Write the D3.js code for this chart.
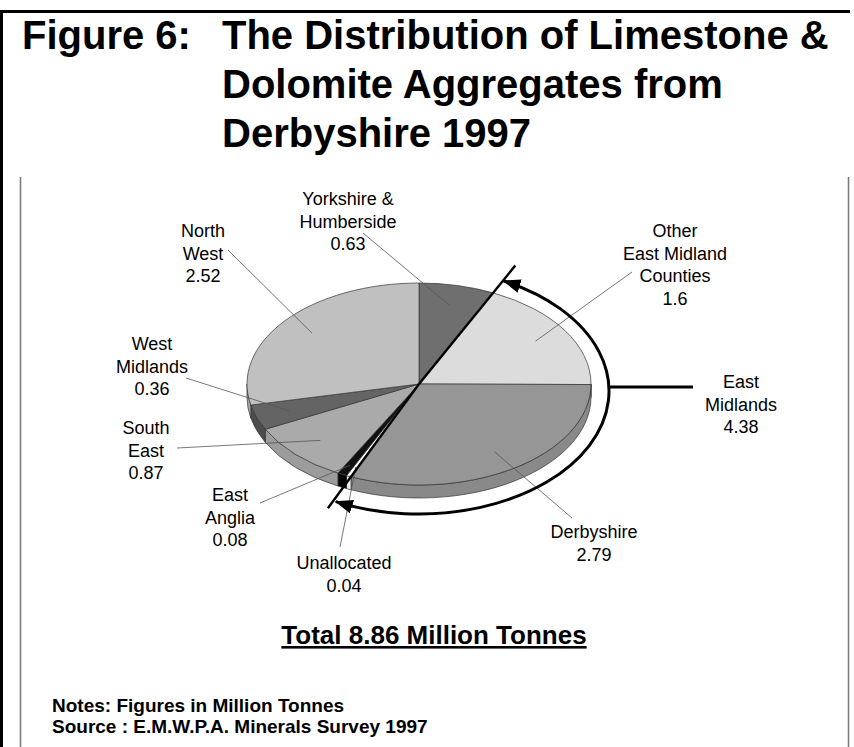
<!DOCTYPE html>
<html>
<head>
<meta charset="utf-8">
<script src="https://cdn.jsdelivr.net/npm/d3@7"></script>
<style>
  body { margin: 0; background: #fff; }
  svg text { font-family: "Liberation Sans", Arial, sans-serif; fill: #000; }
</style>
</head>
<body>
<div id="chart"></div>
<script>
// ---------------------------------------------------------
//  datos
// ---------------------------------------------------------
var figureNo = "Figure 6:";
var titleLines = ["The Distribution of Limestone &", "Dolomite Aggregates from", "Derbyshire 1997"];

var regions = ["Yorkshire & Humberside", "Other East Midland Counties", "Derbyshire", "Unallocated",
               "East Anglia", "South East", "West Midlands", "North West"];
var regionLines = [["Yorkshire &", "Humberside"], ["Other", "East Midland", "Counties"], ["Derbyshire"],
                   ["Unallocated"], ["East", "Anglia"], ["South", "East"], ["West", "Midlands"], ["North", "West"]];
var tonnes = [0.63, 1.6, 2.79, 0.04, 0.08, 0.87, 0.36, 2.52];

var groupLines = ["East", "Midlands"];
var groupValue = 4.38;
var totalText = "Total 8.86 Million Tonnes";
var notes = ["Notes: Figures in Million Tonnes", "Source : E.M.W.P.A. Minerals Survey 1997"];

// ---------------------------------------------------------
//  layout
// ---------------------------------------------------------
var W = 854, H = 747;
var cx = 419, cy = 384, rx = 172, ry = 101, depth = 13;

// colores de cada sector (cara superior y lateral)
var topFill  = ["#6f6f6f", "#dcdcdc", "#969696", "#ffffff", "#111111", "#aaaaaa", "#646464", "#c0c0c0"];
var sideFill = ["#5a5a5a", "#c8c8c8", "#898989", "#eeeeee", "#000000", "#9c9c9c", "#4c4c4c", "#a8a8a8"];

// posicion de las etiquetas: centro x, primera linea base y
var labelPos = [[348, 205], [675, 237], [594, 538], [344, 569], [230, 501], [146, 434], [152, 350], [203, 237]];
var leaderStart = [[363, 233], [632, 272], [572, 518], [340, 547], [260, 503], [177, 448], [186, 378], [228, 250]];
var leaderDepth = [0.8, 0.8, 0.8, 0.9, 0.9, 0.8, 0.8, 0.8];
var lineH = 22.5;

var svg = d3.select("#chart").append("svg")
  .attr("width", W)
  .attr("height", H);

var defs = svg.append("defs");
defs.append("marker")
  .attr("id", "head")
  .attr("viewBox", "0 0 18 14")
  .attr("markerUnits", "userSpaceOnUse")
  .attr("markerWidth", 18)
  .attr("markerHeight", 14)
  .attr("refX", 17)
  .attr("refY", 7)
  .attr("orient", "auto-start-reverse")
  .append("path")
  .attr("d", "M0,0 L18,7 L0,14 Z")
  .attr("fill", "#000");

// marco
svg.append("rect").attr("x", 0).attr("y", 10).attr("width", 3).attr("height", H - 10).attr("fill", "#000");
svg.append("rect").attr("x", 0).attr("y", 10).attr("width", 850).attr("height", 3).attr("fill", "#000");
[20.5, 848.5].forEach(function (x) {
  svg.append("line")
    .attr("x1", x).attr("x2", x)
    .attr("y1", 177).attr("y2", H)
    .attr("stroke", "#777").attr("stroke-width", 1.5);
});

// titulo
svg.append("text")
  .attr("x", 22).attr("y", 49)
  .style("font-size", "40px").style("font-weight", "bold")
  .text(figureNo);
svg.append("g").selectAll("text")
  .data(titleLines)
  .enter()
  .append("text")
  .attr("x", 222)
  .attr("y", function (d, i) { return 49 + i * 49; })
  .style("font-size", "40px").style("font-weight", "bold")
  .text(function (d) { return d; });

// ---------------------------------------------------------
//  tarta 3D
// ---------------------------------------------------------
var pie = d3.pie().sort(null).value(function (d) { return d; });
var arcs = pie(tonnes);

function pt(a, f, dy) {
  f = f || 1;
  return [cx + f * rx * Math.sin(a), cy - f * ry * Math.cos(a) + (dy || 0)];
}

function topPath(d) {
  var p0 = pt(d.startAngle), p1 = pt(d.endAngle);
  var large = (d.endAngle - d.startAngle) > Math.PI ? 1 : 0;
  return "M" + cx + "," + cy + "L" + p0 + "A" + rx + "," + ry + " 0 " + large + " 1 " + p1 + "Z";
}

function sidePath(d) {
  var lo = Math.max(d.startAngle, Math.PI / 2);
  var hi = Math.min(d.endAngle, 3 * Math.PI / 2);
  if (hi <= lo) return null;
  var a = pt(lo), b = pt(hi), b2 = pt(hi, 1, depth), a2 = pt(lo, 1, depth);
  return "M" + a + "A" + rx + "," + ry + " 0 0 1 " + b + "L" + b2 +
         "A" + rx + "," + ry + " 0 0 0 " + a2 + "Z";
}

var pieG = svg.append("g");

pieG.selectAll("path.side")
  .data(arcs.filter(function (d) { return sidePath(d) !== null; }))
  .enter()
  .append("path")
  .attr("class", "side")
  .attr("d", sidePath)
  .attr("fill", function (d) { return sideFill[d.index]; })
  .attr("stroke", "#333")
  .attr("stroke-width", 0.7)
  .attr("stroke-linejoin", "round");

pieG.selectAll("path.top")
  .data(arcs)
  .enter()
  .append("path")
  .attr("class", "top")
  .attr("d", topPath)
  .attr("fill", function (d) { return topFill[d.index]; })
  .attr("stroke", "#333")
  .attr("stroke-width", 0.7)
  .attr("stroke-linejoin", "round");

// lineas de referencia
var leaders = svg.append("g");
arcs.forEach(function (d, i) {
  var mid = (d.startAngle + d.endAngle) / 2;
  var e = pt(mid, leaderDepth[i]);
  leaders.append("line")
    .attr("x1", leaderStart[i][0]).attr("y1", leaderStart[i][1])
    .attr("x2", e[0]).attr("y2", e[1])
    .attr("stroke", "#555")
    .attr("stroke-width", 0.8);
});

// etiquetas
var labels = svg.append("g").style("font-size", "18px");
arcs.forEach(function (d, i) {
  var lines = regionLines[i].concat([String(tonnes[i])]);
  labels.append("text")
    .attr("text-anchor", "middle")
    .attr("x", labelPos[i][0])
    .attr("y", labelPos[i][1])
    .selectAll("tspan")
    .data(lines)
    .enter()
    .append("tspan")
    .attr("x", labelPos[i][0])
    .attr("dy", function (t, j) { return j === 0 ? 0 : lineH; })
    .text(function (t) { return t; });
});

// ---------------------------------------------------------
//  corchete East Midlands
// ---------------------------------------------------------
var aStart = arcs[0].endAngle;   // limite Yorkshire / Other EM
var aEnd = arcs[2].endAngle;     // limite Derbyshire / Unallocated

[[aStart, 1.3], [aEnd, 1.34]].forEach(function (s) {
  var e = pt(s[0], s[1]);
  svg.append("line")
    .attr("x1", cx).attr("y1", cy)
    .attr("x2", e[0]).attr("y2", e[1])
    .attr("stroke", "#000")
    .attr("stroke-width", 2.4);
});

var bx = 419, by = 391, brx = 190, bry = 123;
function bpt(a) { return [bx + brx * Math.sin(a), by - bry * Math.cos(a)]; }
var b0 = aStart + 0.9 * Math.PI / 180, b1 = aEnd + 2.7 * Math.PI / 180;
svg.append("path")
  .attr("d", "M" + bpt(b0) + "A" + brx + "," + bry + " 0 0 1 " + bpt(b1))
  .attr("fill", "none")
  .attr("stroke", "#000")
  .attr("stroke-width", 3)
  .attr("marker-start", "url(#head)")
  .attr("marker-end", "url(#head)");

svg.append("line")
  .attr("x1", bx + brx - 1).attr("y1", 387)
  .attr("x2", 693).attr("y2", 387)
  .attr("stroke", "#000")
  .attr("stroke-width", 3);

svg.append("text")
  .attr("text-anchor", "middle")
  .style("font-size", "18px")
  .attr("y", 388)
  .selectAll("tspan")
  .data(groupLines.concat([String(groupValue)]))
  .enter()
  .append("tspan")
  .attr("x", 741)
  .attr("dy", function (t, j) { return j === 0 ? 0 : lineH; })
  .text(function (t) { return t; });

// total y notas
svg.append("text")
  .attr("x", 434).attr("y", 644)
  .attr("text-anchor", "middle")
  .style("font-size", "26px").style("font-weight", "bold")
  .style("text-decoration", "underline")
  .text(totalText);

svg.append("g").selectAll("text")
  .data(notes)
  .enter()
  .append("text")
  .attr("x", 52)
  .attr("y", function (d, i) { return 712 + i * 21; })
  .style("font-size", "19px").style("font-weight", "bold")
  .text(function (d) { return d; });
</script>
</body>
</html>
